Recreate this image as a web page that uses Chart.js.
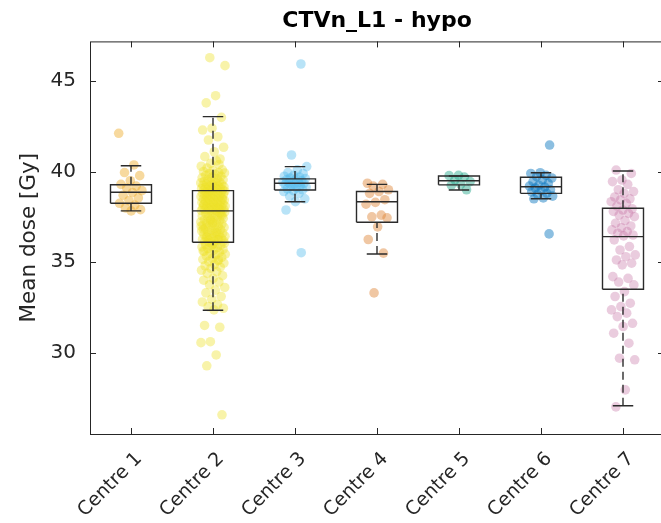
<!DOCTYPE html>
<html><head><meta charset="utf-8">
<script src="https://cdn.jsdelivr.net/npm/chart.js@4/dist/chart.umd.min.js"></script>
<style>
html,body{margin:0;padding:0;background:#fff;overflow:hidden;width:661px;height:523px}
#wrap{position:absolute;left:0;top:0;width:664px;height:523px}
</style>
</head><body><div id="wrap"><canvas id="c" width="664" height="523"></canvas></div>
<script>
const categories = ['Centre 1','Centre 2','Centre 3','Centre 4','Centre 5','Centre 6','Centre 7'];
const yTickValues = [30, 35, 40, 45];

// per-centre values (Mean dose, Gy)
const centre1 = [42.12,40.37,39.95,39.78,39.5,39.3,39.2,39.1,38.95,38.85,38.7,38.55,38.4,38.25,38.15,38.0,37.9,37.83];
const centre2 = [
 46.3,45.86,44.2,43.8,43.0,42.4,42.3,41.93,41.75,41.35,41.1,40.83,40.7,40.46,40.3,40.6,40.2,40.1,40.05,40.0,39.95,39.9,39.93,39.85,39.8,39.75,39.7,39.66,39.62,39.58,39.55,39.5,39.47,39.44,39.41,39.38,39.35,39.32,39.3,39.27,39.24,39.21,39.19,39.16,39.14,39.12,39.1,39.08,39.06,39.04,39.02,39.0,38.98,38.97,40.4,
 38.94,38.92,38.9,38.87,38.86,38.83,38.81,38.8,38.77,38.75,38.72,38.7,38.67,38.65,38.62,38.6,38.57,38.55,38.52,38.5,38.48,38.44,38.42,38.4,38.37,38.35,38.31,38.3,38.27,38.25,38.22,38.2,38.18,38.14,38.12,38.1,38.07,38.06,38.03,38.02,38.0,37.98,37.96,37.93,37.92,37.9,37.88,37.86,37.85,37.84,38.63,38.47,38.33,38.17,37.97,
 37.8,37.76,37.71,37.68,37.62,37.6,37.55,37.51,37.47,37.42,37.4,37.35,37.31,37.28,37.22,37.2,37.15,37.11,37.07,37.03,37.0,36.96,36.92,36.88,36.85,36.8,36.77,36.72,36.7,36.66,36.61,36.58,36.54,36.5,36.47,36.43,36.4,36.36,36.33,36.3,36.27,36.24,36.2,36.17,36.14,36.12,37.73,37.33,36.99,36.63,36.38,37.57,37.17,36.81,36.25,
 36.08,36.05,36.0,35.96,35.92,35.88,35.84,35.8,35.75,35.7,35.66,35.6,35.55,35.5,35.44,35.4,35.33,35.27,35.2,35.15,35.08,35.03,34.95,34.88,34.8,34.72,34.66,34.55,34.47,34.38,34.25,34.1,34.0,33.9,33.75,33.6,33.45,33.3,33.1,32.95,32.8,32.65,32.54,32.45,32.36,31.5,31.4,30.6,30.55,29.87,29.27,26.56,35.98,35.62,35.12
];
const centre3 = [45.95,40.92,40.28,40.1,39.95,39.9,39.8,39.75,39.7,39.65,39.62,39.6,39.55,39.5,39.47,39.42,39.4,39.37,39.35,39.3,39.28,39.25,39.2,39.15,39.1,39.05,39.0,38.95,38.9,38.8,38.65,38.5,38.34,37.88,35.52];
const centre4 = [39.36,39.3,39.2,39.0,38.9,38.8,38.45,38.3,38.2,37.6,37.5,37.45,36.95,36.25,35.5,33.3];
const centre5 = [39.8,39.78,39.7,39.55,39.45,39.3,39.25,39.0];
const centre6 = [41.47,39.94,39.9,39.8,39.72,39.65,39.55,39.45,39.35,39.25,39.2,39.15,39.1,39.0,38.95,38.88,38.8,38.75,38.65,38.55,38.5,36.56];
const centre7 = [40.09,39.9,39.54,39.45,39.3,39.0,38.9,38.8,38.6,38.5,38.44,38.34,38.25,38.1,37.95,37.88,37.8,37.7,37.6,37.51,37.3,37.15,37.0,36.9,36.78,36.69,36.6,36.5,36.45,36.23,35.86,35.67,35.4,35.3,35.12,34.94,34.85,34.2,34.1,33.9,33.74,33.37,33.1,32.73,32.54,32.36,32.18,31.99,31.62,31.44,31.07,30.52,29.69,29.6,27.94,27.0];

// box statistics
const boxQ1 =        [38.25, 36.10, 38.99, 37.20, 39.27, 38.80, 33.50];
const boxMedian =    [38.86, 37.83, 39.36, 38.34, 39.50, 39.17, 36.41];
const boxQ3 =        [39.28, 38.95, 39.60, 38.90, 39.76, 39.69, 37.98];
const whiskerLow =   [37.83, 32.34, 38.34, 35.45, 38.99, 38.50, 27.06];
const whiskerHigh =  [40.33, 43.04, 40.28, 39.30, 39.76, 39.94, 40.04];

const pointColors = ['rgba(237,170,40,0.45)','rgba(238,224,40,0.40)','rgba(77,185,235,0.40)','rgba(222,130,50,0.45)','rgba(30,165,135,0.45)','rgba(0,114,189,0.45)','rgba(195,110,160,0.35)'];

const allValues = [centre1, centre2, centre3, centre4, centre5, centre6, centre7];

const BOX_HALF = 0.25, CAP_HALF = 0.125, JITTER = 0.15;

function jitterX(ci, j) {
  const f = (j * 0.6180339887 + ci * 0.37) % 1;
  return ci + 1 + (f - 0.5) * 2 * JITTER;
}

const pointSets = allValues.map((vals, ci) => ({
  type: 'scatter',
  data: vals.map((v, j) => ({x: jitterX(ci, j), y: v})),
  backgroundColor: pointColors[ci],
  borderWidth: 0,
  pointRadius: 4.8,
  pointHoverRadius: 4.8,
  order: 10
}));

const boxPts = [], medPts = [], capPts = [], whiskPts = [];
categories.forEach((c, i) => {
  const x = i + 1;
  boxPts.push({x: x - BOX_HALF, y: boxQ1[i]}, {x: x + BOX_HALF, y: boxQ1[i]}, {x: x + BOX_HALF, y: boxQ3[i]}, {x: x - BOX_HALF, y: boxQ3[i]}, {x: x - BOX_HALF, y: boxQ1[i]}, {x: x, y: null});
  medPts.push({x: x - BOX_HALF, y: boxMedian[i]}, {x: x + BOX_HALF, y: boxMedian[i]}, {x: x, y: null});
  capPts.push({x: x - CAP_HALF, y: whiskerLow[i]}, {x: x + CAP_HALF, y: whiskerLow[i]}, {x: x, y: null},
              {x: x - CAP_HALF, y: whiskerHigh[i]}, {x: x + CAP_HALF, y: whiskerHigh[i]}, {x: x, y: null});
  whiskPts.push({x: x, y: boxQ3[i]}, {x: x, y: whiskerHigh[i]}, {x: x, y: null},
                {x: x, y: whiskerLow[i]}, {x: x, y: boxQ1[i]}, {x: x, y: null});
});

function lineSet(data, dash) {
  return {type: 'scatter', showLine: true, data, borderColor: '#2b2b2b', borderWidth: 1.4,
    borderDash: dash || [], pointRadius: 0, pointHoverRadius: 0, spanGaps: false, fill: false, order: 1};
}

const framePlugin = {
  id: 'frame',
  afterDraw(chart) {
    const {ctx, chartArea: a, scales} = chart;
    ctx.save();
    ctx.strokeStyle = '#262626';
    ctx.lineWidth = 1;
    ctx.strokeRect(a.left + 0.5, a.top + 0.5, a.right - a.left - 1, a.bottom - a.top);
    const L = 6;
    ctx.beginPath();
    scales.x.ticks.forEach(t => {
      const px = Math.round(scales.x.getPixelForValue(t.value)) + 0.5;
      ctx.moveTo(px, a.bottom); ctx.lineTo(px, a.bottom - L);
      ctx.moveTo(px, a.top); ctx.lineTo(px, a.top + L);
    });
    scales.y.ticks.forEach(t => {
      const py = Math.round(scales.y.getPixelForValue(t.value)) + 0.5;
      ctx.moveTo(a.left, py); ctx.lineTo(a.left + L, py);
      ctx.moveTo(a.right, py); ctx.lineTo(a.right - L, py);
    });
    ctx.stroke();
    ctx.restore();
  }
};

const FONT = '"DejaVu Sans", "Liberation Sans", Arial, sans-serif';

new Chart(document.getElementById('c'), {
  type: 'scatter',
  data: {
    datasets: [
      lineSet(boxPts), lineSet(medPts), lineSet(capPts), lineSet(whiskPts, [8, 5]),
      ...pointSets
    ]
  },
  options: {
    responsive: false,
    animation: false,
    devicePixelRatio: 1,
    layout: {autoPadding: false, padding: {left: 0, right: 0, top: 0, bottom: 0}},
    plugins: {
      legend: {display: false},
      tooltip: {enabled: false},
      title: {
        display: true,
        text: 'CTVn_L1 - hypo',
        fullSize: false,
        color: '#000',
        font: {family: FONT, size: 22, weight: 'bold', lineHeight: 1.2},
        padding: {top: 8, bottom: 7}
      }
    },
    scales: {
      x: {
        type: 'linear',
        min: 0.5, max: 7.5,
        afterBuildTicks: s => { s.ticks = categories.map((c, i) => ({value: i + 1})); },
        afterFit: s => { s.height = 89; s.paddingLeft = 0; s.paddingRight = 0; },
        grid: {display: false},
        border: {display: false},
        ticks: {
          autoSkip: false, minRotation: 45, maxRotation: 45, padding: 6, labelOffset: 8,
          color: '#262626', font: {family: FONT, size: 19},
          callback: (v) => categories[Math.round(v) - 1]
        }
      },
      y: {
        type: 'linear',
        min: 25.5, max: 47.2,
        afterBuildTicks: s => { s.ticks = yTickValues.map(v => ({value: v})); },
        afterFit: s => { s.width = 90; s.paddingTop = 0; s.paddingBottom = 0; },
        grid: {display: false},
        border: {display: false},
        ticks: {padding: 6, color: '#262626', font: {family: FONT, size: 20}},
        title: {display: true, text: 'Mean dose [Gy]', color: '#262626', font: {family: FONT, size: 21.5, lineHeight: 1.2}, padding: {top: 17, bottom: 4}}
      }
    }
  },
  plugins: [framePlugin]
});
</script>
</body></html>
